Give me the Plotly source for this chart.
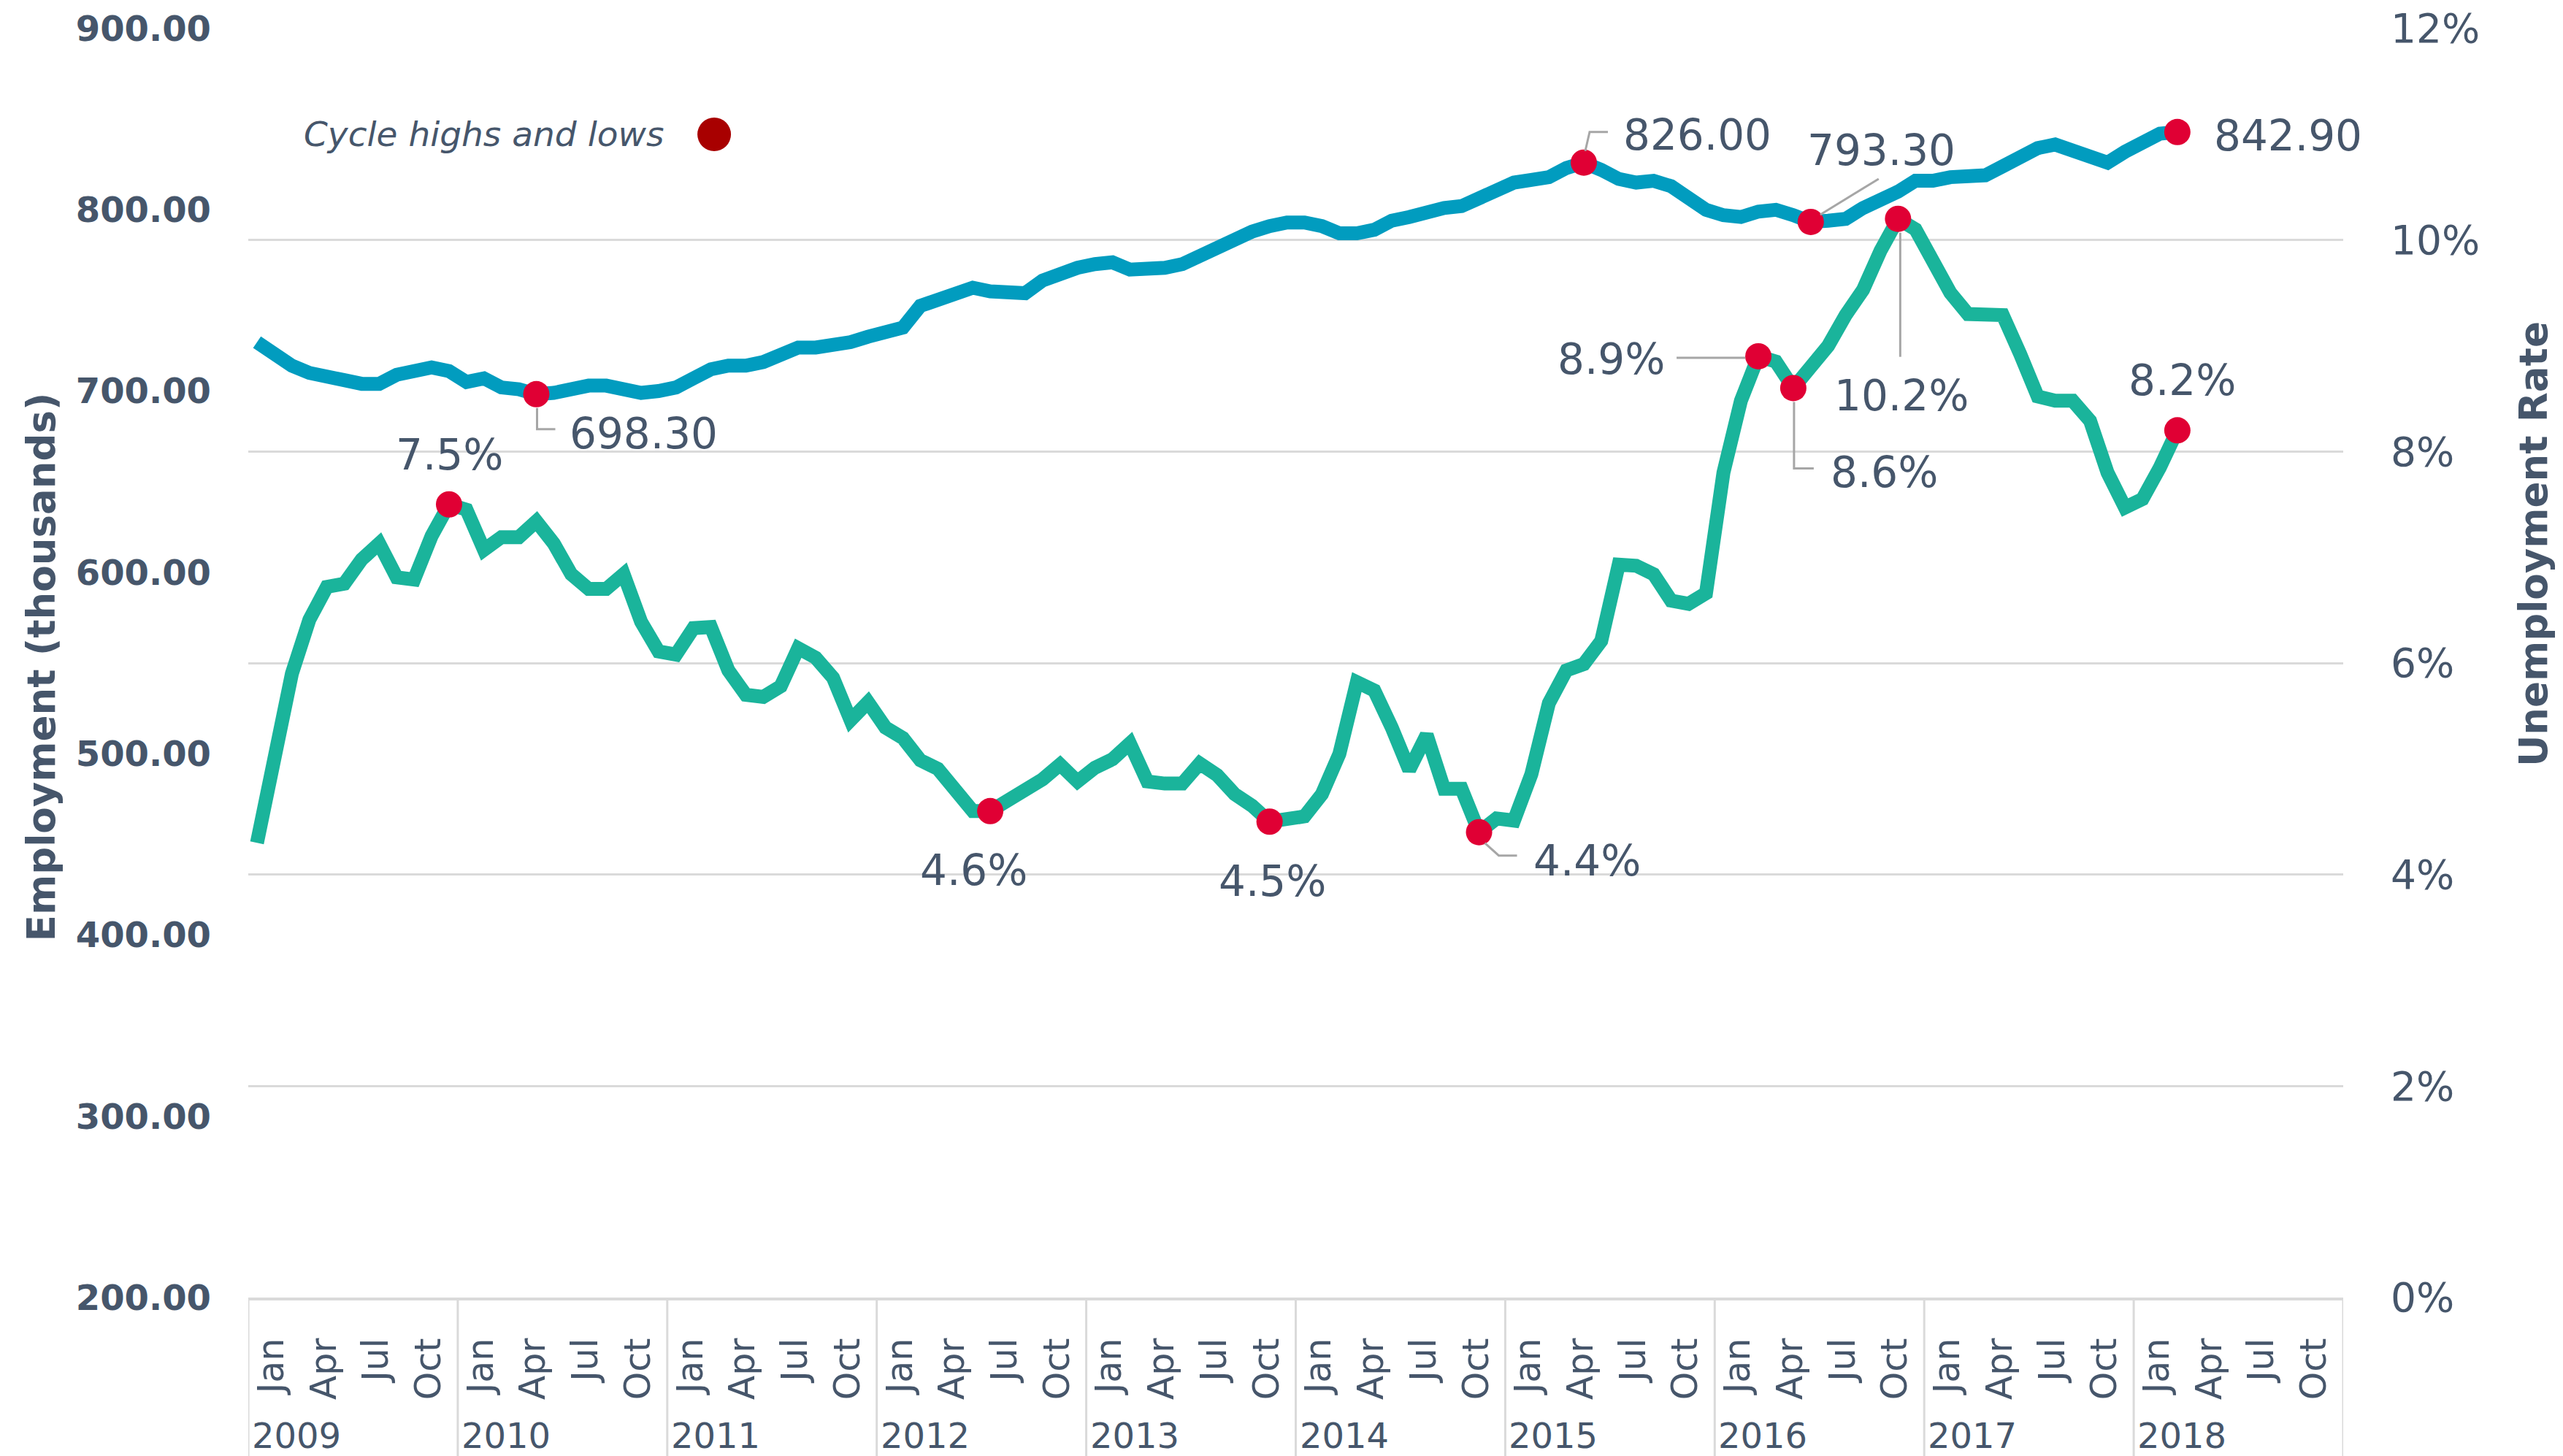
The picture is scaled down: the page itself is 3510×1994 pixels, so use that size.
import plotly.graph_objects as go

# Monthly data, Jan 2009 .. Mar 2018
YEARS = list(range(2009, 2019))
MONTHS = ["Jan", "Feb", "Mar", "Apr", "May", "Jun", "Jul", "Aug", "Sep", "Oct", "Nov", "Dec"]
TICK_MONTHS = ["Jan", "Apr", "Jul", "Oct"]

# Employment (thousands)
EMPLOYMENT = [
    727, 720, 714, 710, 707, 706, 704, 704, 709, 711, 713, 711,          # 2009
    705, 707, 702, 701, 698.3, 699, 702, 703, 703, 700, 699, 700,        # 2010
    702, 707, 712, 714, 714, 716, 719, 724, 724, 725, 727, 730,          # 2011
    733, 735, 747, 750, 755, 757, 755, 754, 754, 761, 765, 768,          # 2012
    770, 771, 767, 767, 768, 770, 775, 778, 785, 788, 791, 793,          # 2013
    793, 791, 787, 787, 789, 794, 796, 799, 801, 802, 806, 809,          # 2014
    815, 816.5, 818, 823, 826, 822, 817, 815, 816, 813, 807, 800,        # 2015
    797, 796, 799, 800, 797, 793.3, 794, 795, 801, 805, 810, 816,        # 2016
    816, 818, 818, 819, 824, 830, 834, 836, 832, 829, 826, 832,          # 2017
    838, 842, 842.9,                                                     # 2018
]

# Unemployment rate (%)
UNEMPLOYMENT = [
    4.3, 5.05, 5.9, 6.41, 6.72, 6.75, 6.98, 7.13, 6.81, 6.79, 7.2, 7.5,      # 2009
    7.45, 7.07, 7.19, 7.19, 7.34, 7.13, 6.84, 6.70, 6.70, 6.84, 6.39, 6.11,  # 2010
    6.08, 6.33, 6.34, 5.93, 5.70, 5.68, 5.78, 6.14, 6.05, 5.86, 5.46, 5.63,  # 2011
    5.39, 5.29, 5.08, 5.00, 4.80, 4.6, 4.6, 4.7, 4.81, 4.90, 5.04, 4.88,     # 2012
    5.01, 5.09, 5.24, 4.88, 4.86, 4.86, 5.05, 4.94, 4.76, 4.65, 4.5, 4.52,   # 2013
    4.55, 4.76, 5.14, 5.82, 5.74, 5.39, 4.99, 5.32, 4.81, 4.81, 4.4, 4.53,   # 2014
    4.51, 4.95, 5.62, 5.93, 5.99, 6.21, 6.93, 6.92, 6.84, 6.59, 6.56, 6.66,  # 2015
    7.8, 8.48, 8.9, 8.85, 8.6, 8.80, 9.00, 9.29, 9.53, 9.90, 10.2, 10.1,     # 2016
    9.83, 9.5, 9.3, 9.29, 9.29, 8.92, 8.52, 8.48, 8.48, 8.29, 7.80, 7.47,    # 2017
    7.55, 7.85, 8.2,                                                         # 2018
]

# cycle highs and lows (month index)
EMP_MARKS = [16, 76, 89, 110]
UNEMP_MARKS = [11, 42, 58, 70, 86, 88, 94, 110]

TEXT = "#46566b"
BLUE = "#019cbf"
GREEN = "#1ab49b"
RED = "#e00034"
GRID = "#dadada"
FONT = "DejaVu Sans"

# label placement: xanchor, xshift, yshift, leader path (px, relative to the marker)
EMP_LABEL_POS = {
    16: ("left", 44, -54, "M 1,-19 L 1,-48 L 26,-48"),
    76: ("left", 52, 38, "M 2,16 L 8,42 L 33,42"),
    89: ("center", 97, 98, "M 13,10 L 93,59"),
    110: ("left", 48, -5, None),
}
UNEMP_LABEL_POS = {
    11: ("center", 1, 68, None),
    42: ("center", -23, -81, None),
    58: ("center", 4, -82, None),
    70: ("left", 72, -39, "M 8,-15 L 27,-32 L 52,-32"),
    86: ("right", -126, -4, "M -112,-2 L -18,-2"),
    88: ("left", 49, -116, "M 1,-19 L 1,-110 L 28,-110"),
    94: ("center", 5, -242, "M 3,-19 L 3,-189"),
    110: ("center", 7, 68, None),
}

idx = list(range(len(EMPLOYMENT)))

fig = go.Figure()
fig.add_trace(go.Scatter(x=idx, y=EMPLOYMENT, mode="lines", yaxis="y",
                         line=dict(color=BLUE, width=19), showlegend=False))
fig.add_trace(go.Scatter(x=idx, y=UNEMPLOYMENT, mode="lines", yaxis="y2",
                         line=dict(color=GREEN, width=19), showlegend=False))
fig.add_trace(go.Scatter(x=EMP_MARKS, y=[EMPLOYMENT[i] for i in EMP_MARKS], mode="markers",
                         yaxis="y", marker=dict(color=RED, size=36, line=dict(width=0)),
                         showlegend=False))
fig.add_trace(go.Scatter(x=UNEMP_MARKS, y=[UNEMPLOYMENT[i] for i in UNEMP_MARKS], mode="markers",
                         yaxis="y2", marker=dict(color=RED, size=36, line=dict(width=0)),
                         showlegend=False))

annotations = []
shapes = []


def add_labels(marks, values, pos, yref, fmt):
    for i in marks:
        xa, xs, ys, leader = pos[i]
        annotations.append(dict(
            x=i, y=values[i], xref="x", yref=yref, text=fmt(values[i]), showarrow=False,
            xanchor=xa, yanchor="middle", xshift=xs, yshift=ys,
            font=dict(family=FONT, size=58, color=TEXT),
        ))
        if leader:
            shapes.append(dict(
                type="path", xref="x", yref=yref, xsizemode="pixel", ysizemode="pixel",
                xanchor=i, yanchor=values[i], path=leader,
                line=dict(color="#a6a6a6", width=3), layer="above",
            ))


add_labels(EMP_MARKS, EMPLOYMENT, EMP_LABEL_POS, "y", lambda v: f"{v:.2f}")
add_labels(UNEMP_MARKS, UNEMPLOYMENT, UNEMP_LABEL_POS, "y2", lambda v: f"{v:.1f}%")

# year groups below the month ticks
for k, yr in enumerate(YEARS):
    annotations.append(dict(
        x=k * 12 - 0.5, y=-0.1085, xref="x", yref="paper", text=str(yr), showarrow=False,
        xanchor="left", yanchor="middle", xshift=3,
        font=dict(family=FONT, size=48, color=TEXT),
    ))
for k in range(len(YEARS) + 1):
    shapes.append(dict(
        type="line", xref="x", yref="paper", x0=k * 12 - 0.5, x1=k * 12 - 0.5,
        y0=0, y1=-0.125, line=dict(color=GRID, width=3), layer="below",
    ))

# axis titles
annotations.append(dict(
    x=-0.099, y=0.497, xref="paper", yref="paper", text="<b>Employment (thousands)</b>",
    textangle=-90, showarrow=False, xanchor="center", yanchor="middle",
    font=dict(family=FONT, size=53, color=TEXT),
))
annotations.append(dict(
    x=1.091, y=0.594, xref="paper", yref="paper", text="<b>Unemployment Rate</b>",
    textangle=-90, showarrow=False, xanchor="center", yanchor="middle",
    font=dict(family=FONT, size=53, color=TEXT),
))

# legend note
annotations.append(dict(
    x=0.0258, y=0.9166, xref="paper", yref="paper", text="<i>Cycle highs and lows</i>",
    showarrow=False, xanchor="left", yanchor="middle",
    font=dict(family=FONT, size=47, color=TEXT),
))
shapes.append(dict(
    type="circle", xref="paper", yref="paper", xsizemode="pixel", ysizemode="pixel",
    xanchor=0.2224, yanchor=0.9166, x0=-23, x1=23, y0=-23, y1=23,
    fillcolor="#a80000", line=dict(width=0),
))

tickvals = [k * 12 + MONTHS.index(m) for k in range(len(YEARS)) for m in TICK_MONTHS]
ticktext = [m for _ in YEARS for m in TICK_MONTHS]

fig.update_layout(
    width=3510, height=1994, autosize=False,
    margin=dict(l=340, r=301, t=39, b=217, pad=0),
    paper_bgcolor="white", plot_bgcolor="white",
    font=dict(family=FONT, color=TEXT),
    xaxis=dict(
        range=[-0.5, 119.5], tickmode="array", tickvals=tickvals, ticktext=ticktext,
        tickangle=-90, tickfont=dict(family=FONT, size=49, color=TEXT),
        showgrid=False, zeroline=False, showline=True, linecolor=GRID, linewidth=4,
        ticks="", ticklabelstandoff=32, ticklabelshift=20, automargin=False,
    ),
    yaxis=dict(
        range=[200, 900], tickmode="array", tickvals=list(range(200, 901, 100)),
        tickformat=".2f", showgrid=False, zeroline=False, showline=False, ticks="",
        tickfont=dict(family=FONT, size=48, color=TEXT, weight="bold"),
        ticklabelstandoff=50, automargin=False,
    ),
    yaxis2=dict(
        range=[0, 12], tickmode="linear", tick0=0, dtick=2, ticksuffix="%",
        overlaying="y", side="right", showgrid=True, gridcolor=GRID, gridwidth=3,
        zeroline=False, showline=False, ticks="",
        tickfont=dict(family=FONT, size=55, color=TEXT),
        ticklabelstandoff=64, automargin=False,
    ),
    annotations=annotations,
    shapes=shapes,
)

# drop the default page margin so the figure sits at the window's top-left corner
fig.write_html("out.html", config={"displayModeBar": False},
               post_script="document.body.style.margin='0';")
